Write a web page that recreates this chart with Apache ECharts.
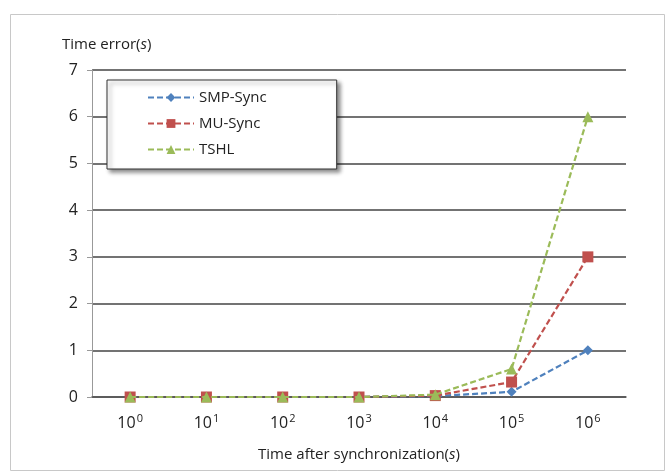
<!DOCTYPE html>
<html lang="en">
<head>
	<meta charset="UTF-8">
	<script src="https://cdn.jsdelivr.net/npm/echarts@6/dist/echarts.min.js"></script>
	<title>Time error</title>
</head>
<body style="margin:0">
<div id="pic" style="width:672px;height:475px"></div>
<script>
	"use strict";

	const pows=["0","1","2","3","4","5","6"];
	const smp=[0,0,0,0,0.02,0.11,1];
	const mu=[0,0,0,0,0.03,0.32,3];
	const tshl=[0,0,0,0,0.05,0.6,6];
	const names=["SMP-Sync","MU-Sync","TSHL"];
	const cols=["#4f81bd","#c0504d","#9bbb59"];
	const marks=["diamond","rect","triangle"];
	const sizes=[10,11,11];

	const ff="'Open Sans','Noto Sans',sans-serif";

	function mk(i,d)
	{
		return {
			name:names[i],
			type:"line",
			data:d,
			symbol:marks[i],
			symbolSize:sizes[i],
			itemStyle:{color:cols[i]},
			lineStyle:{color:cols[i],width:2.2,type:[6,3]},
			z:3+i
		};
	}

	let pic=echarts.init(document.getElementById("pic"));
	let option=
		{
			animation:false,
			backgroundColor:"#fff",
			graphic:[{
				type:"rect",
				shape:{x:10.5,y:14.5,width:654,height:456},
				style:{fill:"none",stroke:"#c8c8c8",lineWidth:1},
				silent:true
			}],
			grid:{left:92,right:46,top:70,bottom:78},
			legend:{
				left:107,top:80,orient:"vertical",
				padding:[10,70,12,40],
				itemGap:11,itemWidth:46,itemHeight:11,
				backgroundColor:"#fff",
				borderColor:"#333",borderWidth:1,
				shadowBlur:4,shadowOffsetX:3,shadowOffsetY:3,shadowColor:"rgba(0,0,0,0.45)",
				textStyle:{fontFamily:ff,fontSize:15,color:"#222"},
				data:names
			},
			xAxis:{
				type:"category",
				data:pows,
				name:"Time after synchronization({i|s})",
				nameLocation:"middle",
				nameGap:50,
				nameTextStyle:{fontFamily:ff,fontSize:15,color:"#222",
					rich:{i:{fontFamily:ff,fontSize:15,fontStyle:"italic",color:"#222"}}},
				axisLine:{lineStyle:{color:"#555",width:1.5}},
				axisTick:{show:false},
				axisLabel:{
					margin:16,
					formatter:v=>"{b|10}{s|"+v+"}",
					rich:{
						b:{fontFamily:ff,fontSize:16,color:"#222"},
						s:{fontFamily:ff,fontSize:11,color:"#222",verticalAlign:"bottom",padding:[0,0,10,1]}
					}
				}
			},
			yAxis:{
				type:"value",
				min:0,max:7,interval:1,
				name:"Time error({i|s})",
				nameLocation:"end",
				nameGap:18,
				nameTextStyle:{fontFamily:ff,fontSize:15,color:"#222",align:"left",padding:[0,0,0,-30],
					rich:{i:{fontFamily:ff,fontSize:15,fontStyle:"italic",color:"#222"}}},
				axisLine:{show:true,lineStyle:{color:"#999"}},
				axisTick:{show:true,length:5,lineStyle:{color:"#999"}},
				axisLabel:{fontFamily:ff,fontSize:16,color:"#222",margin:14},
				splitLine:{lineStyle:{color:"#444",width:1.5}}
			},
			series:[mk(0,smp),mk(1,mu),mk(2,tshl)]
		};
	pic.setOption(option);
</script>
</body>
</html>
